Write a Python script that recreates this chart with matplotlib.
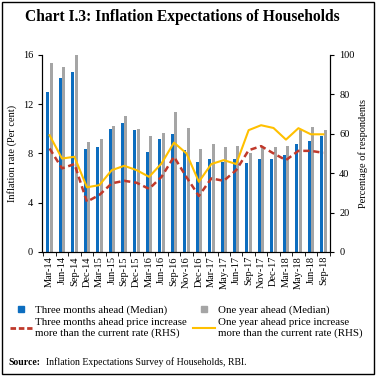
import matplotlib.pyplot as plt
import numpy as np
from matplotlib.lines import Line2D
from matplotlib.patches import Rectangle

plt.rcParams['font.family'] = ['Liberation Serif', 'DejaVu Serif']

# quarters of the survey
quarters = ['Mar-14', 'Jun-14', 'Sep-14', 'Dec-14', 'Mar-15', 'Jun-15', 'Sep-15',
            'Dec-15', 'Mar-16', 'Jun-16', 'Sep-16', 'Nov-16', 'Dec-16', 'Mar-17',
            'May-17', 'Jun-17', 'Sep-17', 'Nov-17', 'Dec-17', 'Mar-18', 'May-18',
            'Jun-18', 'Sep-18']

# median inflation expectations (per cent)
three_months = [13.0, 14.1, 14.6, 8.35, 8.5, 10.0, 10.5, 9.9, 8.1, 9.2, 9.55, 8.25,
                7.27, 7.54, 7.27, 7.54, 7.19, 7.54, 7.54, 7.9, 8.73, 8.98, 9.43]
one_year = [15.35, 15.0, 16.0, 8.95, 9.2, 10.25, 11.05, 10.0, 9.4, 9.65, 11.4, 10.1,
            8.35, 8.8, 8.49, 8.6, 8.0, 8.54, 8.49, 8.6, 9.9, 10.14, 9.9]

# share of respondents expecting price increase above current rate (RHS, %)
three_months_more = [52.5, 42.4, 44.6, 25.5, 28.9, 34.8, 36.1, 35.1, 32.0, 38.1, 48.3, 38.0,
                     28.4, 37.3, 36.1, 41.5, 51.6, 53.7, 50.0, 46.6, 51.3, 51.3, 50.3]
one_year_more = [59.2, 47.4, 48.3, 32.8, 33.9, 41.5, 43.7, 41.5, 38.1, 44.9, 55.5, 50.0,
                 35.6, 44.6, 46.6, 44.6, 61.8, 64.3, 62.9, 57.0, 62.8, 59.7, 59.7]

blue = '#0c6dbf'
grey = '#a5a5a5'
red = '#c0392b'
yellow = '#ffc000'

fig = plt.figure(figsize=(3.76, 3.76), dpi=100)
fig.patches.append(Rectangle((0.004, 0.004), 0.992, 0.992, transform=fig.transFigure,
                             fill=False, edgecolor='black', linewidth=1.0))

fig.text(0.485, 0.955, 'Chart I.3: Inflation Expectations of Households',
         ha='center', va='center', fontsize=11.2, fontweight='bold')

ax = fig.add_axes([0.112, 0.33, 0.766, 0.524])
x = np.arange(len(quarters))
w = 0.24
ax.bar(x - 0.14, three_months, width=w, color=blue, label='Three months ahead (Median)')
ax.bar(x + 0.14, one_year, width=w, color=grey, label='One year ahead (Median)')
ax.set_ylim(0, 16)
ax.set_yticks([0, 4, 8, 12, 16])
ax.set_xlim(-0.6, len(quarters) - 0.45)
ax.set_xticks(x)
ax.set_xticklabels(quarters, rotation=90)
ax.set_xticks(np.arange(-0.5, len(quarters), 1), minor=True)
ax.tick_params(axis='x', which='major', length=0, labelsize=7.5, pad=3)
ax.tick_params(axis='x', which='minor', length=3, direction='out')
ax.tick_params(axis='y', labelsize=7.5, length=3)
ax.set_ylabel('Inflation rate (Per cent)', fontsize=7.5, labelpad=4)
ax.spines['top'].set_visible(False)

ax2 = ax.twinx()
ax2.plot(x, three_months_more, color=red, linestyle=(0, (2.5, 1.5)), linewidth=1.8)
ax2.plot(x, one_year_more, color=yellow, linewidth=1.5)
ax2.set_ylim(0, 100)
ax2.set_yticks([0, 20, 40, 60, 80, 100])
ax2.tick_params(axis='y', labelsize=7.5, length=3)
ax2.set_ylabel('Percentage of respondents', fontsize=7.5, labelpad=3)
ax2.spines['top'].set_visible(False)

handles = [
    Line2D([], [], marker='s', linestyle='none', color=blue, markersize=5),
    Line2D([], [], color=red, linestyle=(0, (2, 1)), linewidth=2),
    Line2D([], [], marker='s', linestyle='none', color=grey, markersize=5),
    Line2D([], [], color=yellow, linewidth=1.5),
]
labels = ['Three months ahead (Median)',
          'Three months ahead price increase\nmore than the current rate (RHS)',
          'One year ahead (Median)',
          'One year ahead price increase\nmore than the current rate (RHS)']
leg = fig.legend(handles, labels, ncol=2, loc='upper left', bbox_to_anchor=(0.015, 0.2),
                 frameon=False, fontsize=7.8, handlelength=2.0, handletextpad=0.3,
                 columnspacing=0.6, labelspacing=0.25, borderaxespad=0)
for t in leg.get_texts():
    t.set_linespacing(1.25)

fig.text(0.022, 0.037, 'Source:', fontsize=7, fontweight='bold', va='center')
fig.text(0.122, 0.037, 'Inflation Expectations Survey of Households, RBI.',
         fontsize=7, va='center')

fig.savefig('out.png', dpi=100)
